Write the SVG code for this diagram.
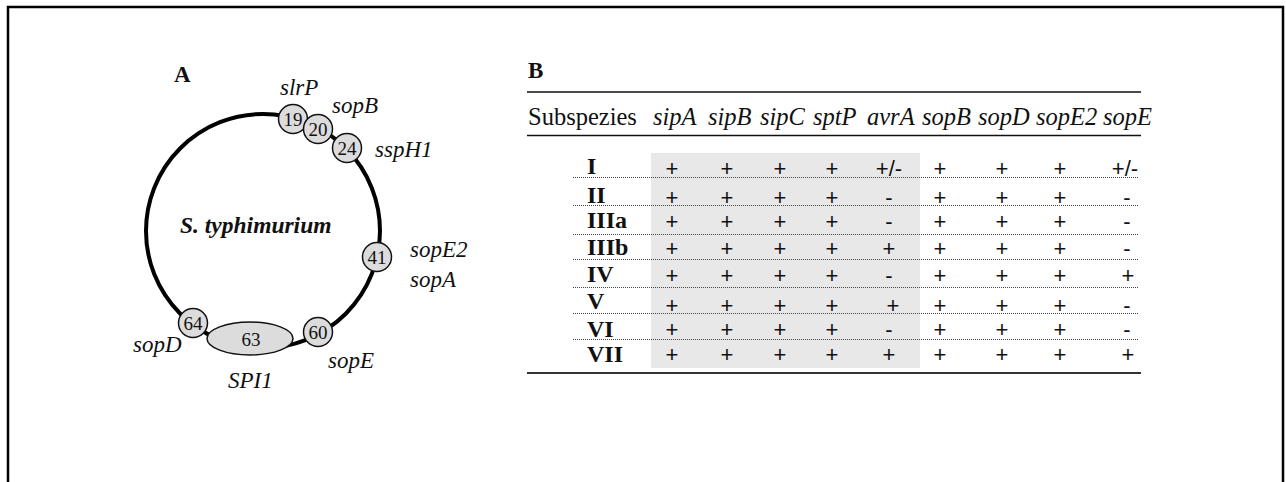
<svg xmlns="http://www.w3.org/2000/svg" width="1286" height="482" viewBox="0 0 1286 482">
<style>
.t{font-family:"Liberation Serif","Times New Roman",serif;fill:#111}
.it{font-style:italic}
.b{font-weight:bold}
.lab{font-size:23px}
.num{font-size:19px;text-anchor:middle}
.hd{font-size:24.5px}
.rl{font-size:24px;font-weight:bold}
.pm{font-family:"Liberation Sans",Arial,sans-serif;font-size:22px;fill:#111;text-anchor:middle}
.node{fill:#dcdcdc;stroke:#111;stroke-width:1.5}
.dot{stroke:#444;stroke-width:1;stroke-dasharray:1 1;fill:none}
</style>
<rect width="1286" height="482" fill="#fff"/>
<path d="M8,482 V7 H1283 V482" fill="none" stroke="#000" stroke-width="2.5"/>

<!-- Panel A -->
<text class="t b" x="174" y="82" font-size="23">A</text>
<g id="connectors">
<circle cx="263" cy="231" r="117" fill="none" stroke="#000" stroke-width="4"/>
</g>
<text class="t it b" x="180" y="233" font-size="23.5">S. typhimurium</text>
<g id="n19"><circle class="node" cx="293" cy="119" r="14.5"/><text class="t num" x="293" y="125.5">19</text></g>
<g id="n20"><circle class="node" cx="318" cy="129" r="14.5"/><text class="t num" x="318" y="135.5">20</text></g>
<g id="n24"><circle class="node" cx="347" cy="148" r="14.5"/><text class="t num" x="347" y="154.5">24</text></g>
<g id="n41"><circle class="node" cx="377" cy="257" r="14.5"/><text class="t num" x="377" y="263.5">41</text></g>
<g id="n60"><circle class="node" cx="318" cy="332" r="14.5"/><text class="t num" x="318" y="338.5">60</text></g>
<g id="n64"><circle class="node" cx="193" cy="323" r="14.5"/><text class="t num" x="193" y="329.5">64</text></g>
<g id="n63"><ellipse class="node" cx="250" cy="338.5" rx="43" ry="16.5"/><text class="t num" x="251" y="345.5">63</text></g>
<g id="labels">
<text class="t it lab" x="280" y="95">slrP</text>
<text class="t it lab" x="332" y="113">sopB</text>
<text class="t it lab" x="375" y="157">sspH1</text>
<text class="t it lab" x="410" y="257">sopE2</text>
<text class="t it lab" x="410" y="287">sopA</text>
<text class="t it lab" x="328" y="368">sopE</text>
<text class="t it lab" x="228" y="388">SPI1</text>
<text class="t it lab" x="133" y="352">sopD</text>
</g>

<!-- Panel B -->
<text class="t b" x="528" y="78" font-size="23">B</text>
<rect x="651" y="153" width="269" height="215" fill="#e8e8e8"/>
<line x1="527" y1="92" x2="1141" y2="92" stroke="#111" stroke-width="1.6"/>
<line x1="527" y1="135.5" x2="1141" y2="135.5" stroke="#111" stroke-width="1.6"/>
<line x1="527" y1="373" x2="1141" y2="373" stroke="#333" stroke-width="2.2"/>
<g id="header">
<text class="t hd" x="528" y="125">Subspezies</text>
<text class="t it hd" x="653" y="125">sipA</text>
<text class="t it hd" x="708" y="125">sipB</text>
<text class="t it hd" x="760" y="125">sipC</text>
<text class="t it hd" x="813" y="125">sptP</text>
<text class="t it hd" x="867" y="125">avrA</text>
<text class="t it hd" x="922" y="125">sopB</text>
<text class="t it hd" x="978" y="125">sopD</text>
<text class="t it hd" x="1036" y="125">sopE2</text>
<text class="t it hd" x="1103" y="125">sopE</text>
</g>
<g id="dots">
<line class="dot" x1="573" y1="177.5" x2="1138" y2="177.5"/>
<line class="dot" x1="573" y1="205.5" x2="1138" y2="205.5"/>
<line class="dot" x1="573" y1="234.5" x2="1138" y2="234.5"/>
<line class="dot" x1="573" y1="259.5" x2="1138" y2="259.5"/>
<line class="dot" x1="573" y1="287.5" x2="1138" y2="287.5"/>
<line class="dot" x1="573" y1="313.5" x2="1138" y2="313.5"/>
<line class="dot" x1="573" y1="339.5" x2="1138" y2="339.5"/>
</g>
<g id="rows">
<text class="t rl" x="587" y="174">I</text>
<text class="t rl" x="587" y="203">II</text>
<text class="t rl" x="587" y="228">IIIa</text>
<text class="t rl" x="587" y="255">IIIb</text>
<text class="t rl" x="587" y="282">IV</text>
<text class="t rl" x="587" y="309">V</text>
<text class="t rl" x="587" y="337">VI</text>
<text class="t rl" x="587" y="362">VII</text>
</g>
<g id="cells">
<text class="pm" y="176"><tspan x="672">+</tspan><tspan x="727">+</tspan><tspan x="780">+</tspan><tspan x="832">+</tspan><tspan x="889">+/-</tspan><tspan x="940">+</tspan><tspan x="1002">+</tspan><tspan x="1060">+</tspan><tspan x="1125">+/-</tspan></text>
<text class="pm" y="205"><tspan x="672">+</tspan><tspan x="727">+</tspan><tspan x="780">+</tspan><tspan x="832">+</tspan><tspan x="889">-</tspan><tspan x="940">+</tspan><tspan x="1002">+</tspan><tspan x="1060">+</tspan><tspan x="1127">-</tspan></text>
<text class="pm" y="229"><tspan x="672">+</tspan><tspan x="727">+</tspan><tspan x="780">+</tspan><tspan x="832">+</tspan><tspan x="889">-</tspan><tspan x="940">+</tspan><tspan x="1002">+</tspan><tspan x="1060">+</tspan><tspan x="1127">-</tspan></text>
<text class="pm" y="256"><tspan x="672">+</tspan><tspan x="727">+</tspan><tspan x="780">+</tspan><tspan x="832">+</tspan><tspan x="889">+</tspan><tspan x="940">+</tspan><tspan x="1002">+</tspan><tspan x="1060">+</tspan><tspan x="1127">-</tspan></text>
<text class="pm" y="283"><tspan x="672">+</tspan><tspan x="727">+</tspan><tspan x="780">+</tspan><tspan x="832">+</tspan><tspan x="889">-</tspan><tspan x="940">+</tspan><tspan x="1002">+</tspan><tspan x="1060">+</tspan><tspan x="1128">+</tspan></text>
<text class="pm" y="313"><tspan x="672">+</tspan><tspan x="727">+</tspan><tspan x="780">+</tspan><tspan x="832">+</tspan><tspan x="893">+</tspan><tspan x="940">+</tspan><tspan x="1002">+</tspan><tspan x="1060">+</tspan><tspan x="1127">-</tspan></text>
<text class="pm" y="337"><tspan x="672">+</tspan><tspan x="727">+</tspan><tspan x="780">+</tspan><tspan x="832">+</tspan><tspan x="889">-</tspan><tspan x="940">+</tspan><tspan x="1002">+</tspan><tspan x="1060">+</tspan><tspan x="1127">-</tspan></text>
<text class="pm" y="362"><tspan x="672">+</tspan><tspan x="727">+</tspan><tspan x="780">+</tspan><tspan x="832">+</tspan><tspan x="889">+</tspan><tspan x="940">+</tspan><tspan x="1002">+</tspan><tspan x="1060">+</tspan><tspan x="1128">+</tspan></text>
</g>
</svg>
